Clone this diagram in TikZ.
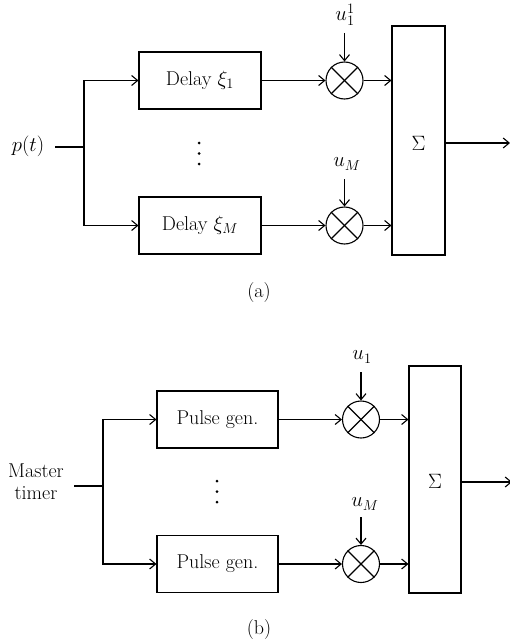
\documentclass[tikz,border=0pt]{standalone}
\usetikzlibrary{arrows.meta,calc}
\begin{document}
\begin{tikzpicture}[x=1pt,y=-1pt,line width=1.1pt,
  every node/.style={font=\fontsize{20}{24}\selectfont,inner sep=0pt},
  blk/.style={draw,minimum width=122pt,minimum height=57pt},
  mult/.style={draw,circle,minimum size=37pt},
  sumbox/.style={draw},
  arr/.style={-{Straight Barb[length=6pt,width=10pt]}},
  dotf/.style={fill,circle,minimum size=3pt}]
\useasboundingbox (0,0) rectangle (510,642);
% ---------- (a) ----------
\node (pin) at (28,146) {$p(t)$};
\coordinate (ina) at (55,147);
\coordinate (bra) at (84,147);
\node[blk] (d1) at (200,80.5) {Delay $\xi_1$};
\node[blk] (d2) at (200,225.5) {Delay $\xi_M$};
\node[mult] (m1) at (344.5,80.5) {};
\node[mult] (m2) at (344.5,225.5) {};
\foreach \m in {m1,m2}{
  \draw (\m.45) -- (\m.225);
  \draw (\m.135) -- (\m.315);
}
\node (u1) at (345,15) {$u_1^1$};
\coordinate (u1s) at (344.5,33);
\node (uM) at (347,164) {$u_M$};
\coordinate (uMs) at (344.5,179);
\node[sumbox,minimum width=53pt,minimum height=229pt] (sa) at (418.5,140.5) {};
\node (sigA) at (418.5,143) {$\Sigma$};
\coordinate (outa) at (510,143);
\node[dotf] (pa1) at (199,143) {};
\node[dotf] (pa2) at (199,153.5) {};
\node[dotf] (pa3) at (199,164) {};
\node (capa) at (259,293) {(a)};
\draw (ina) -- (bra);
\draw[arr] (bra) |- (d1.west);
\draw[arr] (bra) |- (d2.west);
\draw[arr] (d1.east) -- (m1.west);
\draw[arr] (d2.east) -- (m2.west);
\draw[arr] (u1s) -- (m1.north);
\draw[arr] (uMs) -- (m2.north);
\draw[arr] (m1.east) -- (sa.west |- m1.east);
\draw[arr] (m2.east) -- (sa.west |- m2.east);
\draw[arr] (sa.east |- outa) -- (outa);
% ---------- (b) ----------
\node[align=center,font=\fontsize{20}{22}\selectfont] (mt) at (36,482) {Master\\timer};
\coordinate (inb) at (74,486);
\coordinate (brb) at (103,486);
\node[blk,minimum width=121pt] (p1) at (217.5,419.5) {Pulse gen.};
\node[blk,minimum width=121pt] (p2) at (217.5,564) {Pulse gen.};
\node[mult] (n1) at (361,419.5) {};
\node[mult] (n2) at (361,564) {};
\foreach \m in {n1,n2}{
  \draw (\m.45) -- (\m.225);
  \draw (\m.135) -- (\m.315);
}
\node (v1) at (362,357) {$u_1$};
\coordinate (v1s) at (361,372);
\node (vM) at (365,504) {$u_M$};
\coordinate (vMs) at (361,517);
\node[sumbox,minimum width=52pt,minimum height=227pt] (sb) at (435,479.5) {};
\node (sigB) at (435,481) {$\Sigma$};
\coordinate (outb) at (512,482);
\node[dotf] (pb1) at (217,481) {};
\node[dotf] (pb2) at (217,491.5) {};
\node[dotf] (pb3) at (217,502) {};
\node (capb) at (259,630) {(b)};
\draw (inb) -- (brb);
\draw[arr] (brb) |- (p1.west);
\draw[arr] (brb) |- (p2.west);
\draw[arr] (p1.east) -- (n1.west);
\draw[arr] (p2.east) -- (n2.west);
\draw[arr] (v1s) -- (n1.north);
\draw[arr] (vMs) -- (n2.north);
\draw[arr] (n1.east) -- (sb.west |- n1.east);
\draw[arr] (n2.east) -- (sb.west |- n2.east);
\draw[arr] (sb.east |- outb) -- (outb);
\end{tikzpicture}
\end{document}
